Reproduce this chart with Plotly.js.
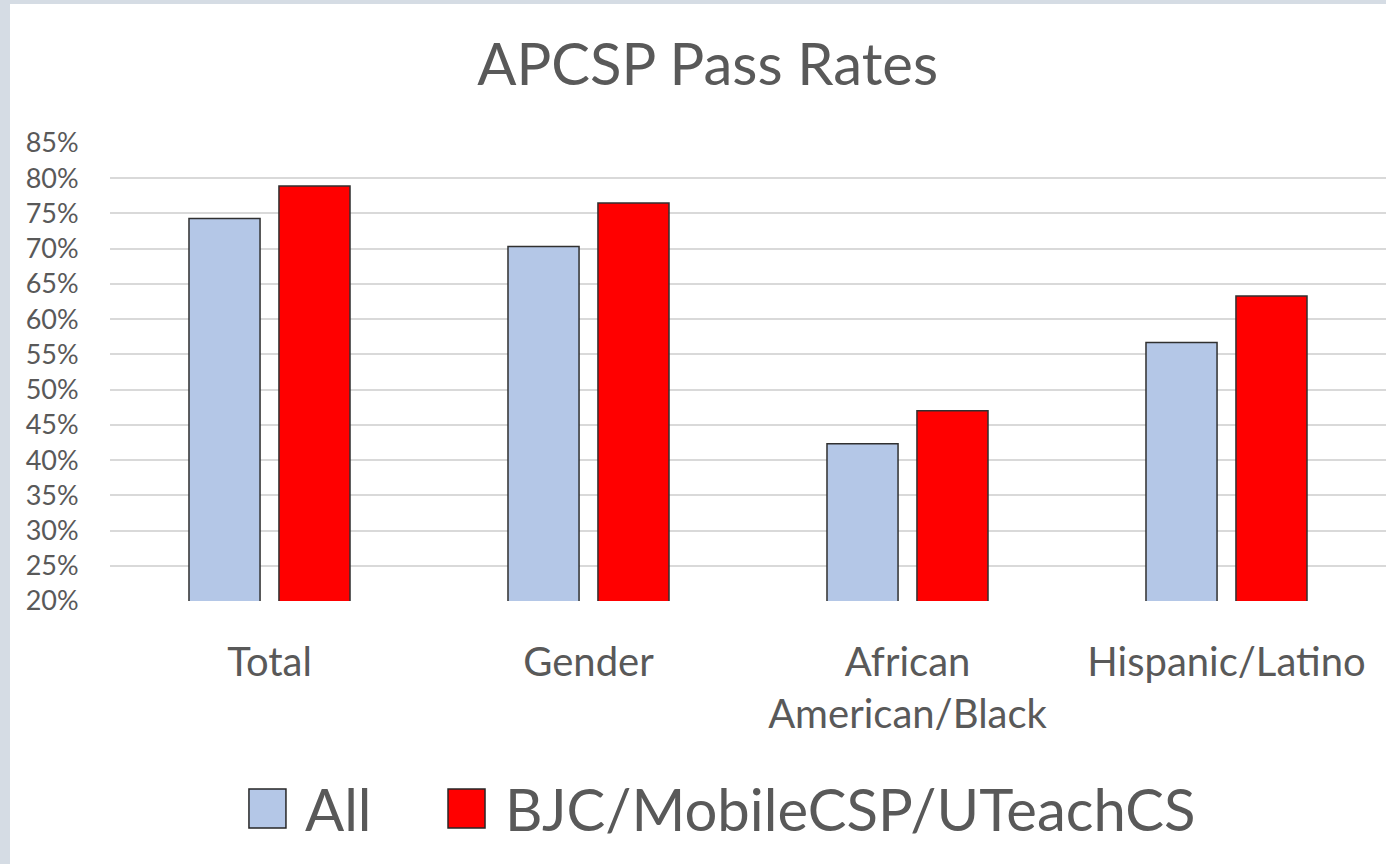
<!DOCTYPE html>
<html>
<head>
<meta charset="utf-8">
<script src="https://cdn.plot.ly/plotly-3.0.1.min.js"></script>
<style>
  html, body { margin: 0; padding: 0; background: #d5dce4; width: 1386px; height: 864px; overflow: hidden; }
  #chart { position: absolute; left: 10px; top: 4px; width: 1376px; height: 860px; background: #fff; }
</style>
</head>
<body>
<div id="chart"></div>
<script>
const categories = ["Total", "Gender", "African<br>American/Black", "Hispanic/Latino"];
const seriesNames = ["All", "BJC/MobileCSP/UTeachCS"];
const allValues = [74.3, 70.3, 42.3, 56.7];
const bjcValues = [78.9, 76.5, 47.0, 63.3];
const tickValues = [20, 25, 30, 35, 40, 45, 50, 55, 60, 65, 70, 75, 80, 85];
const tickLabels = ["20%", "25%", "30%", "35%", "40%", "45%", "50%", "55%", "60%", "65%", "70%", "75%", "80%", "85%"];
const colors = ["#b4c7e7", "#ff0000"];

const font = "Lato, 'Open Sans', sans-serif";
const textColor = "#595959";

const traces = [allValues, bjcValues].map((vals, i) => ({
  type: "bar",
  name: seriesNames[i],
  x: categories,
  y: vals,
  base: 0,
  marker: { color: colors[i], line: { color: "#303030", width: 1.5 } },
  showlegend: false,
  hoverinfo: "x+y"
}));

// legend (large square swatches as in the reference)
const swatchX = [0.1089, 0.2649];
const textX = [0.1513, 0.308];
const shapes = seriesNames.map((n, i) => ({
  type: "rect", xref: "paper", yref: "paper",
  x0: swatchX[i], x1: swatchX[i] + 0.029, y0: -0.4956, y1: -0.4105,
  fillcolor: colors[i], line: { color: "#262626", width: 1.5 }
}));
const annotations = seriesNames.map((n, i) => ({
  xref: "paper", yref: "paper", x: textX[i], y: -0.452,
  xanchor: "left", yanchor: "middle", showarrow: false,
  text: n, font: { family: font, size: 58, color: textColor }
}));

const layout = {
  width: 1376, height: 860,
  margin: { l: 100, r: 0, t: 139, b: 263 },
  paper_bgcolor: "#ffffff", plot_bgcolor: "#ffffff",
  title: { text: "APCSP Pass Rates", font: { family: font, size: 58, color: textColor },
           x: 0.507, xanchor: "center", y: 0.93, yanchor: "middle" },
  barmode: "group", bargap: 0.436, bargroupgap: 0.21,
  xaxis: {
    type: "category", showgrid: false, zeroline: false, showline: false,
    ticks: "outside", ticklen: 26, tickcolor: "rgba(0,0,0,0)",
    tickfont: { family: font, size: 40, color: textColor }
  },
  yaxis: {
    range: [20, 85], tickvals: tickValues, ticktext: tickLabels,
    showgrid: true, gridcolor: "#d9d9d9", gridwidth: 2,
    zeroline: false, showline: false,
    ticks: "outside", ticklen: 25, tickcolor: "rgba(0,0,0,0)",
    tickfont: { family: font, size: 27, color: textColor }
  },
  shapes: shapes,
  annotations: annotations,
  showlegend: false
};

Plotly.newPlot("chart", traces, layout, { displayModeBar: false, staticPlot: true });
</script>
</body>
</html>
